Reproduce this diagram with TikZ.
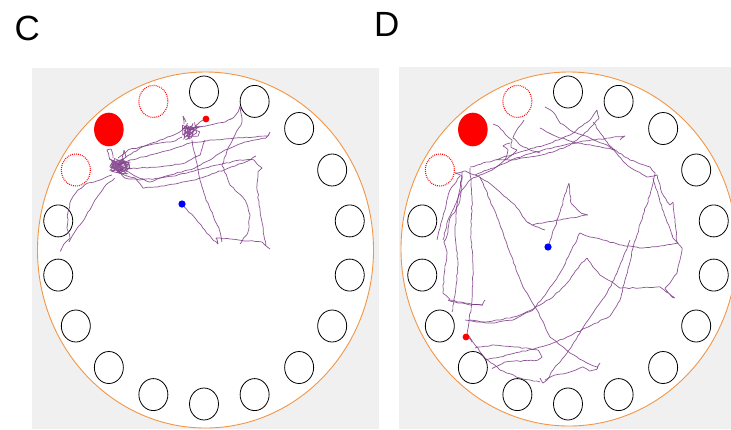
\documentclass[tikz,border=0pt]{standalone}
\usepackage{fontspec}
\setmainfont{Liberation Sans}
\usetikzlibrary{decorations.pathmorphing}

\definecolor{panelgray}{RGB}{240,240,240}
\definecolor{arenaorange}{RGB}{242,150,70}
\definecolor{pathpurple}{RGB}{122,56,132}
\definecolor{startblue}{RGB}{0,0,255}

\tikzset{
  panelbg/.style={fill=panelgray, draw=none},
  arena/.style={fill=white, draw=arenaorange, line width=0.9pt},
  hole/.style={draw=black, line width=0.8pt},
  target/.style={fill=red, draw=none},
  decoy/.style={draw=red, line width=1.1pt, dash pattern=on 0.9pt off 1.1pt},
  traj/.style={draw=pathpurple, opacity=0.85, line width=0.7pt,
    decoration={random steps, segment length=3.5pt, amplitude=0.6pt},
    decorate, rounded corners=0.4pt},
  tangle/.style={draw=pathpurple, opacity=0.85, line width=0.7pt},
  startdot/.style={fill=startblue, draw=none},
  enddot/.style={fill=red, draw=none},
  panellabel/.style={font=\fontsize{35}{35}\selectfont, inner sep=0pt, anchor=base west}
}

\begin{document}
\begin{tikzpicture}[x=1pt, y=-1pt]
\useasboundingbox (0,0) rectangle (731,429);
\clip (0,0) rectangle (731,429);
\pgfmathsetseed{42}

% panel letters
\node[panellabel] (labC) at (14.5,40) {C};
\node[panellabel] (labD) at (374,36) {D};

% grey panel backgrounds
\fill[panelbg] (32,68) rectangle (379,429);
\fill[panelbg] (399,67) rectangle (731,429);

% ---------- panel C : arena, holes ----------
\draw[arena] (205.5,250) ellipse [x radius=168, y radius=178];
\foreach \a in {90,70,50,30,10,-10,-30,-50,-70,-90,-110,-130,-150,-170,170} {
  \draw[hole] ({204+148*cos(\a)},{248-156*sin(\a)}) ellipse [x radius=14.5, y radius=16];
}
\draw[decoy] ({204+148*cos(110)},{248-156*sin(110)}) ellipse [x radius=14.5, y radius=16];
\draw[decoy] ({204+148*cos(150)},{248-156*sin(150)}) ellipse [x radius=14.5, y radius=16];
\fill[target] ({204+148*cos(130)},{248-156*sin(130)+1}) ellipse [x radius=14.8, y radius=16.8];

% ---------- panel C : trajectory ----------
\draw[traj] (182,204) -- (198,222) -- (213,240) -- (218,244) -- (216,238) -- (230,239)
  -- (248,241) -- (262,242) -- (270,249) -- (266,246) -- (264,236) -- (262,222)
  -- (259,205) -- (257,185) -- (258,172) -- (262,168) -- (258,165) -- (254,160)
  -- (240,160) -- (222,164) -- (205,168) -- (190,172) -- (175,176) -- (160,178)
  -- (140,180) -- (125,178) -- (118,170);
\draw[traj] (118,165) -- (130,160) -- (150,155) -- (170,150) -- (190,143) -- (210,140)
  -- (235,138) -- (255,137) -- (268,136) -- (270,132) -- (266,138) -- (245,142)
  -- (225,150) -- (210,160) -- (195,168) -- (170,175) -- (150,182) -- (135,176) -- (120,168);
\draw[traj] (112,175) -- (100,180) -- (88,183) -- (78,190) -- (71,200) -- (68,212)
  -- (67,228) -- (70,238) -- (64,244) -- (62,248) -- (66,247);
\draw[traj] (115,178) -- (105,186) -- (95,200) -- (86,216) -- (76,230) -- (69,242);
\draw[traj] (122,174) -- (135,178) -- (143,188) -- (157,187) -- (175,184) -- (195,180)
  -- (215,173) -- (235,166) -- (250,160) -- (256,156);
\draw[traj] (122,160) -- (140,148) -- (160,140) -- (178,133) -- (185,127) -- (190,130)
  -- (195,128) -- (210,125) -- (225,122) -- (233,118) -- (238,112) -- (240,106)
  -- (242,118) -- (241,125) -- (235,135) -- (228,148) -- (222,165) -- (230,185)
  -- (245,200) -- (250,215) -- (248,232) -- (240,244);
\draw[traj] (192,140) -- (196,160) -- (200,180) -- (206,200) -- (213,215) -- (220,232) -- (222,242);
\draw[traj] (118,158) -- (128,150) -- (145,146) -- (160,143) -- (175,141) -- (182,137);
\draw[traj] (120,170) -- (140,168) -- (165,166) -- (185,163) -- (200,155) -- (205,140);
\draw[traj] (206,119) -- (200,122) -- (195,126);
\draw[tangle] plot[domain=1:60, samples=60] ({120+11*rand},{166+8*rand});
\draw[traj] (110,160) -- (107,150) -- (111,149) -- (113,158);
\draw[traj] (122,160) -- (124,150) -- (126,158);
\draw[tangle] plot[domain=1:40, samples=40] ({191+9*rand},{131+9*rand});
\draw[traj] (184,124) -- (183,116) -- (186,122);
\fill[startdot] (182,204) circle (3.6);
\fill[enddot] (206,119) circle (3.4);

% ---------- panel D : arena, holes ----------
\draw[arena] (569,249) ellipse [x radius=168, y radius=177];
\foreach \a in {90,70,50,30,10,-10,-30,-50,-70,-90,-110,-130,-150,-170,170} {
  \draw[hole] ({568+148*cos(\a)},{248-156*sin(\a)}) ellipse [x radius=14.5, y radius=16];
}
\draw[decoy] ({568+148*cos(110)},{248-156*sin(110)}) ellipse [x radius=14.5, y radius=16];
\draw[decoy] ({568+148*cos(150)},{248-156*sin(150)}) ellipse [x radius=14.5, y radius=16];
\fill[target] ({568+148*cos(130)},{248-156*sin(130)+1}) ellipse [x radius=14.8, y radius=16.8];

% ---------- panel D : trajectory ----------
\draw[traj] (548,247) -- (559,215) -- (569,183) -- (571,203) -- (575,207) -- (581,213)
  -- (588,215) -- (560,220) -- (532,225) -- (545,230);
\draw[traj] (532,225) -- (527,222) -- (515,205) -- (500,192) -- (488,182) -- (478,176)
  -- (465,171) -- (455,173);
\draw[traj] (455,173) -- (462,176) -- (460,200) -- (455,212) -- (450,218) -- (448,232)
  -- (444,242) -- (447,252) -- (444,275) -- (443,293) -- (450,300) -- (465,303) -- (483,305);
\draw[traj] (470,168) -- (472,200) -- (471,233) -- (473,267) -- (472,300) -- (469,322)
  -- (467,336) -- (472,342);
\draw[traj] (462,172) -- (457,205) -- (455,235) -- (458,265) -- (455,295) -- (452,312);
\draw[traj] (493,124) -- (498,126) -- (503,131) -- (508,137) -- (512,140) -- (511,147)
  -- (517,150) -- (508,158) -- (495,168) -- (480,175) -- (470,180) -- (462,190)
  -- (455,205) -- (448,220) -- (443,240);
\draw[traj] (475,175) -- (500,165) -- (525,155) -- (555,147) -- (585,141) -- (610,138)
  -- (625,136) -- (620,140);
\draw[traj] (470,167) -- (495,160) -- (520,152) -- (545,145) -- (570,135) -- (590,120)
  -- (597,110) -- (599,118) -- (593,125) -- (583,135) -- (570,145) -- (553,152)
  -- (530,157) -- (510,160) -- (495,160);
\draw[traj] (545,107) -- (553,112) -- (557,118) -- (560,123) -- (573,132) -- (590,138)
  -- (607,145) -- (630,160) -- (650,167) -- (655,173) -- (650,195) -- (643,215)
  -- (637,235) -- (633,248) -- (630,262) -- (625,280) -- (620,300) -- (610,316)
  -- (590,326) -- (567,337) -- (553,343) -- (540,347) -- (520,352) -- (500,357) -- (485,360);
\draw[traj] (593,122) -- (607,142) -- (627,165) -- (647,177) -- (657,175) -- (663,195)
  -- (670,205) -- (673,202) -- (675,222) -- (677,242) -- (682,248) -- (680,260)
  -- (677,273) -- (670,283) -- (665,288) -- (672,297) -- (675,298) -- (660,287)
  -- (640,288) -- (620,288) -- (612,282) -- (600,275) -- (593,267) -- (587,258)
  -- (580,265) -- (567,283) -- (553,297) -- (540,305) -- (520,315) -- (500,320)
  -- (485,322) -- (470,320);
\draw[traj] (653,178) -- (660,202) -- (667,222) -- (673,238) -- (678,243) -- (660,246)
  -- (640,248) -- (620,245) -- (603,240) -- (590,237) -- (580,233) -- (570,253)
  -- (560,273) -- (547,292) -- (533,310) -- (513,320) -- (490,323) -- (477,322) -- (465,320);
\draw[traj] (480,177) -- (490,200) -- (497,217) -- (510,253) -- (523,287) -- (537,310)
  -- (550,337) -- (570,353) -- (587,363) -- (597,367) -- (600,363) -- (597,369)
  -- (590,371) -- (583,367) -- (570,372) -- (555,375) -- (545,380);
\draw[traj] (630,240) -- (617,273) -- (607,293) -- (593,313) -- (580,333) -- (567,353)
  -- (553,370) -- (547,380) -- (543,383) -- (540,378);
\draw[traj] (475,348) -- (492,345) -- (515,347) -- (538,350) -- (542,357) -- (538,360)
  -- (505,362) -- (495,367) -- (497,370);
\draw[traj] (468,335) -- (475,345) -- (485,358) -- (500,370) -- (520,378) -- (540,382);
\draw[traj] (540,128) -- (553,135) -- (573,142) -- (595,146) -- (615,150);
\draw[traj] (540,153) -- (530,150) -- (520,145) -- (513,138) -- (518,128) -- (524,120);
\draw[traj] (448,300) -- (455,302) -- (470,305) -- (482,305) -- (485,300);
\draw[traj] (505,160) -- (508,150) -- (503,146) -- (510,143);
\draw[traj] (460,176) -- (450,190) -- (445,210) -- (440,228) -- (437,240);
\fill[startdot] (548,247) circle (3.6);
\fill[enddot] (466,337) circle (3.4);

\end{tikzpicture}
\end{document}
